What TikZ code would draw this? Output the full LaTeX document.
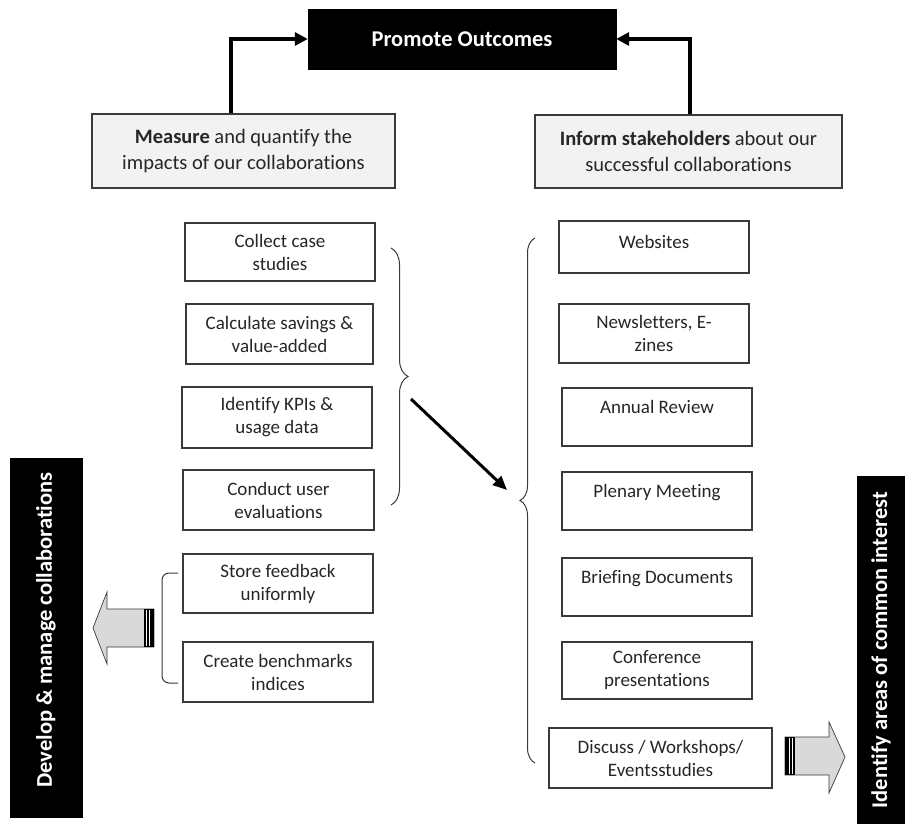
\documentclass[tikz,border=0pt]{standalone}
\usepackage{fontspec}
\setmainfont{Carlito}[Ligatures=NoCommon]
\usetikzlibrary{arrows.meta,decorations.pathreplacing}
\definecolor{boxgray}{HTML}{3A3A3A}
\definecolor{textgray}{HTML}{262626}
\definecolor{topfill}{HTML}{F2F2F2}
\definecolor{arrowfill}{HTML}{D9D9D9}
\begin{document}
\begin{tikzpicture}[x=1pt,y=-1pt,
  box/.style={draw=boxgray, line width=1.2pt, fill=white, align=center, inner sep=2pt,
    font=\fontsize{19}{23}\selectfont, text=textgray},
  topbox/.style={box, fill=topfill, font=\fontsize{20.5}{26}\selectfont},
  sz/.style 2 args={minimum width=#1pt, minimum height=#2pt},
  oneline/.style={text height=13pt, text depth=21pt},
  onelinesmall/.style={text height=13pt, text depth=11pt},
  blackbox/.style={fill=black, draw=black, text=white, font=\fontsize{22.5}{27}\selectfont\bfseries, inner sep=0pt},
  thickarrow/.style={line width=3.2pt, -{Triangle[length=13pt,width=13pt]}},
  bracestyle/.style={draw=boxgray, line width=1pt, decorate},
  blockarrow/.style={fill=arrowfill, draw=boxgray, line width=0.7pt},
]
\useasboundingbox (0,0) rectangle (905,824);

% top
\node[blackbox, sz={308}{60}] (promote) at (462,39) {Promote Outcomes};
\node[topbox, sz={303}{74}] (measure) at (243.5,151) {\textbf{Measure} and quantify the\\impacts of our collaborations};
\node[topbox, sz={307}{73}] (inform) at (688.5,151.5) {\textbf{Inform stakeholders} about our\\successful collaborations};
\draw[thickarrow] ([xshift=-12.5pt]measure.north) |- (promote.west);
\draw[thickarrow] ([xshift=1.5pt]inform.north) |- (promote.east);

% left column
\node[box, sz={190}{58}] (collect) at (280,252) {Collect case\\studies};
\node[box, sz={187}{60}] (calc) at (279.5,334) {Calculate savings \&\\value-added};
\node[box, sz={190}{61}] (ident) at (277,417.5) {Identify KPIs \&\\usage data};
\node[box, sz={191}{60}] (conduct) at (278.5,500) {Conduct user\\evaluations};
\node[box, sz={190}{59}] (store) at (278,583.5) {Store feedback\\uniformly};
\node[box, sz={190}{60}] (bench) at (278,672) {Create benchmarks\\indices};

% right column
\node[box, onelinesmall, sz={190}{52}] (web) at (654,247) {Websites};
\node[box, sz={190}{59}] (news) at (654,333.5) {Newsletters, E-\\zines};
\node[box, oneline, sz={190}{58}] (annual) at (657,417) {Annual Review};
\node[box, oneline, sz={190}{58}] (plenary) at (657,501) {Plenary Meeting};
\node[box, oneline, sz={190}{58}] (brief) at (657,587) {Briefing Documents};
\node[box, sz={190}{57}] (conf) at (657,670.5) {Conference\\presentations};
\node[box, sz={223}{60}] (disc) at (660.5,758) {Discuss / Workshops/\\Eventsstudies};

% braces
\draw[bracestyle, decoration={brace, amplitude=17pt}] (391,248) -- (391,505);
\draw[bracestyle, decoration={brace, amplitude=15pt}] (535,763) -- (535,238);
\draw[draw=boxgray, line width=1pt, rounded corners=7pt] (178,573) -- (162,573) -- (162,683) -- (178,683);

% diagonal arrow
\coordinate (dstart) at (411,399);
\coordinate (dend) at (507,490);
\draw[line width=3pt, -{Triangle[length=14pt,width=12pt]}] (dstart) -- (dend);

% side bars
\node[blackbox, rotate=90, minimum width=359pt, minimum height=72pt] (devbar) at (46,637.5)
  {\hspace*{15pt}Develop \& manage collaborations};
\node[blackbox, rotate=90, minimum width=348pt, minimum height=48pt] (idbar) at (881,650)
  {Identify areas of common interest};

% left block arrow
\draw[blockarrow] (93,628) -- (107,592) -- (107,609) -- (154,609) -- (154,647) -- (107,647) -- (107,664) -- cycle;
\fill[black] (144,609) rectangle (154,647);
\fill[white] (146,609.8) rectangle (147,646.2);
\fill[white] (149,609.8) rectangle (150,646.2);

% right block arrow
\draw[blockarrow] (845,757) -- (829,722) -- (829,737) -- (785,737) -- (785,775) -- (829,775) -- (829,793) -- cycle;
\fill[black] (785,737) rectangle (795,775);
\fill[white] (789,737.8) rectangle (790,774.2);
\fill[white] (792,737.8) rectangle (793,774.2);
\end{tikzpicture}
\end{document}
